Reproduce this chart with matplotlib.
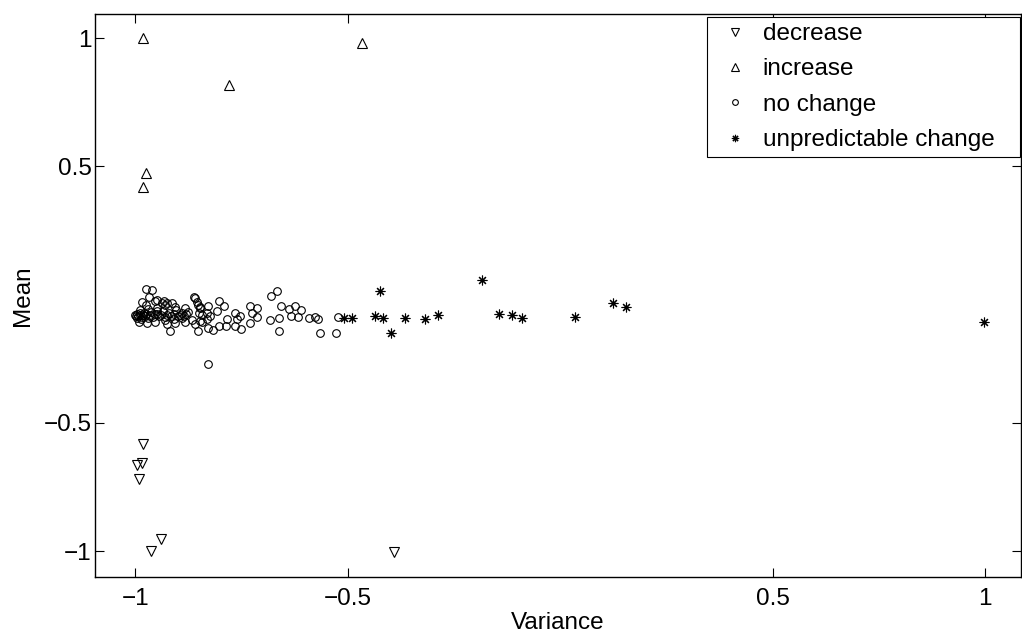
import matplotlib
matplotlib.use("Agg")
import matplotlib.pyplot as plt

plt.rcParams['font.family'] = ['Liberation Sans', 'DejaVu Sans']

# decrease (down triangles)
dec_x = [-0.983, -0.984, -0.995, -0.991, -0.940, -0.964, -0.392]
dec_y = [-0.583, -0.656, -0.664, -0.719, -0.954, -1.000, -1.003]

# increase (up triangles)
inc_x = [-0.982, -0.779, -0.466, -0.975, -0.982]
inc_y = [1.000, 0.816, 0.980, 0.473, 0.418]

# no change (circles) - scattered part
nc_x = [-0.859, -0.852, -0.847, -0.849, -0.843, -0.831, -0.828, -0.824, -0.847, -0.831,
        -0.852, -0.828, -0.816, -0.804, -0.802, -0.808, -0.792, -0.784, -0.787, -0.765,
        -0.753, -0.761, -0.765, -0.751, -0.729, -0.714, -0.725, -0.714, -0.729, -0.680,
        -0.667, -0.682, -0.661, -0.661, -0.656, -0.639, -0.625, -0.609, -0.633, -0.616,
        -0.592, -0.576, -0.570, -0.565, -0.527, -0.522, -0.829,
        -0.976, -0.961, -0.967, -0.984, -0.949, -0.937, -0.925, -0.906, -0.863, -0.855,
        -0.884, -0.847, -0.976, -0.953, -0.933, -0.914, -0.929, -0.949, -0.919,
        -0.992, -0.973, -0.953, -0.925, -0.906, -0.882, -0.867, -0.859, -0.843]
nc_y = [-0.013, -0.039, -0.052, -0.071, -0.078, -0.071, -0.046, -0.085, -0.104, -0.097,
        -0.143, -0.130, -0.139, -0.124, -0.026, -0.065, -0.046, -0.095, -0.124, -0.071,
        -0.082, -0.097, -0.121, -0.136, -0.043, -0.052, -0.071, -0.087, -0.110, -0.004,
        0.013, -0.100, -0.091, -0.143, -0.043, -0.056, -0.043, -0.061, -0.082, -0.087,
        -0.091, -0.087, -0.095, -0.149, -0.149, -0.087, -0.270,
        0.022, 0.018, -0.008, -0.027, -0.021, -0.034, -0.034, -0.047, -0.008, -0.027,
        -0.053, -0.047, -0.039, -0.026, -0.026, -0.032, -0.039, -0.052, -0.140,
        -0.107, -0.112, -0.105, -0.115, -0.110, -0.108, -0.100, -0.113, -0.106]

# no change - dense band near variance -1
band_x = [-1.000, -0.998, -0.995, -0.993, -0.990, -0.988, -0.985, -0.982, -0.980, -0.977,
          -0.974, -0.970, -0.966, -0.962, -0.958, -0.954, -0.950, -0.945, -0.940, -0.935,
          -0.930, -0.925, -0.920, -0.915, -0.910, -0.905, -0.900, -0.895, -0.890, -0.885,
          -0.880, -0.875, -0.990, -0.970, -0.950, -0.930, -0.910, -0.890, -0.996, -0.986]
band_y = [-0.078, -0.082, -0.075, -0.085, -0.080, -0.072, -0.088, -0.079, -0.070, -0.084,
          -0.076, -0.090, -0.081, -0.068, -0.086, -0.077, -0.074, -0.083, -0.079, -0.065,
          -0.088, -0.080, -0.072, -0.084, -0.077, -0.060, -0.085, -0.079, -0.070, -0.082,
          -0.076, -0.066, -0.060, -0.058, -0.062, -0.098, -0.095, -0.092, -0.090, -0.095]

# unpredictable change (asterisks)
un_x = [-0.509, -0.489, -0.424, -0.436, -0.417, -0.399, -0.365, -0.318, -0.288, -0.183,
        -0.145, -0.113, -0.090, 0.036, 0.125, 0.156, 0.998]
un_y = [-0.093, -0.093, 0.015, -0.083, -0.093, -0.150, -0.093, -0.097, -0.080, 0.058,
        -0.077, -0.080, -0.093, -0.089, -0.034, -0.050, -0.107]

ticks = [-1, -0.5, 0.5, 1]
tick_labels = ['\u22121', '\u22120.5', '0.5', '1']
fs = 17.5

fig = plt.figure(figsize=(10.22, 6.37), dpi=100)
ax = fig.add_axes([0.0925, 0.0942, 0.9066, 0.8838])

ax.plot(dec_x, dec_y, linestyle='none', marker='v', markersize=7, mfc='none',
        mec='black', mew=0.8, label='decrease')
ax.plot(inc_x, inc_y, linestyle='none', marker='^', markersize=7, mfc='none',
        mec='black', mew=0.8, label='increase')
ax.plot(nc_x + band_x, nc_y + band_y, linestyle='none', marker='o', markersize=5.5,
        mfc='none', mec='black', mew=0.8, label='no change')
ax.plot(un_x, un_y, linestyle='none', marker=(8, 2, 0), markersize=7,
        mec='black', mew=0.8, label='unpredictable change')

ax.set_xlim(-1.096, 1.085)
ax.set_ylim(-1.101, 1.094)
ax.set_xticks(ticks)
ax.set_xticklabels(tick_labels)
ax.set_yticks(ticks)
ax.set_yticklabels(tick_labels)
ax.tick_params(direction='in', length=6.5, width=0.8, top=True, right=True,
               labelsize=fs)
ax.tick_params(axis='x', pad=8)
ax.tick_params(axis='y', pad=2)
for s in ax.spines.values():
    s.set_linewidth(1.0)

ax.set_xlabel('Variance', fontsize=fs)
ax.set_ylabel('Mean', fontsize=fs)
ax.xaxis.set_label_coords(0.5, -0.062)
ax.yaxis.set_label_coords(-0.065, 0.5)

leg = ax.legend(loc='upper right', bbox_to_anchor=(0.661, 0.75, 0.338, 0.2447),
                mode='expand', fontsize=fs, markerscale=0.75, fancybox=False,
                edgecolor='black', framealpha=1, borderaxespad=0,
                handlelength=1.84, handletextpad=0.2, labelspacing=0.55,
                borderpad=0.25)
leg.get_frame().set_linewidth(0.8)

fig.savefig('out.png', dpi=100)
